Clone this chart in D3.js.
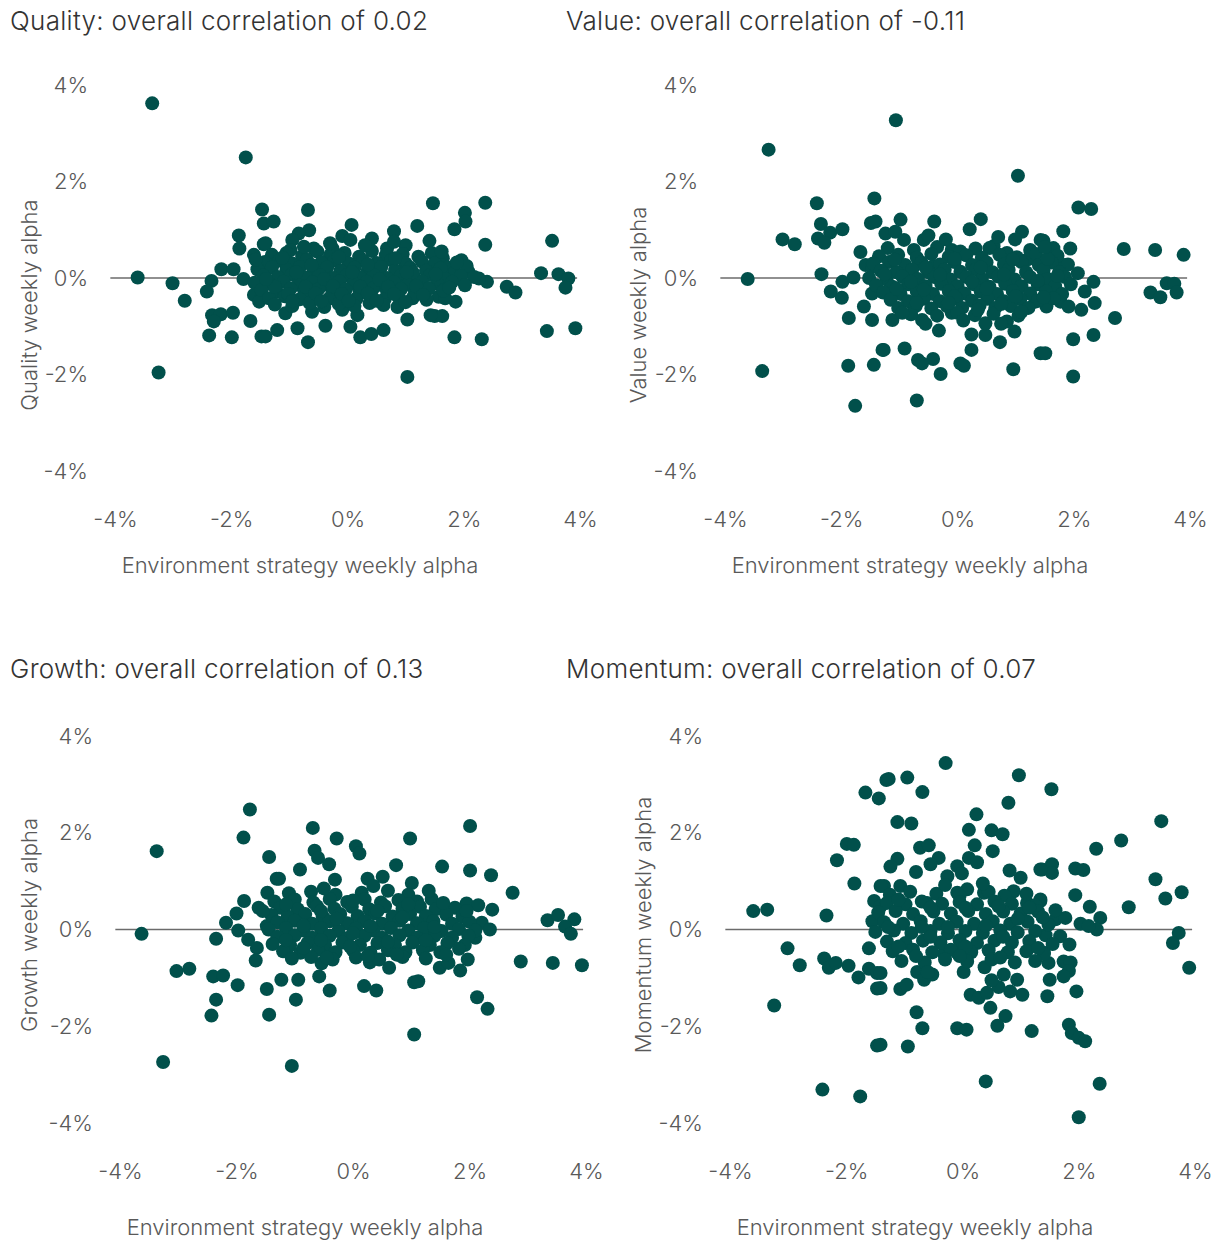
<!DOCTYPE html>
<html>
<head>
<meta charset="utf-8">
<script src="https://cdn.jsdelivr.net/npm/d3@7"></script>
<style>
  body { margin: 0; background: #ffffff; }
  svg text { font-family: Inter, "Noto Sans", sans-serif; }
</style>
</head>
<body>
<svg id="chart" width="1221" height="1241"></svg>
<script>
// Axis ticks shared by every panel (weekly alpha, in %)
const tickValues = [-4, -2, 0, 2, 4];
const tickLabels = ["-4%", "-2%", "0%", "2%", "4%"];

const factorNames = ["Quality", "Value", "Growth", "Momentum"];
const correlations = ["0.02", "-0.11", "0.13", "0.07"];
const xAxisTitle = "Environment strategy weekly alpha";

// [environment strategy weekly alpha %, factor weekly alpha %]
const qualityPoints = [
  [-3.36,3.62],[-1.75,2.50],[-1.47,1.42],[-1.44,1.13],[-1.87,0.88],[-1.86,0.61],[-1.44,0.70],[-1.61,0.48],
  [-3.61,0.01],[-3.01,-0.11],[-2.80,-0.47],[-2.17,0.18],[-1.96,0.18],[-2.34,-0.06],[-2.42,-0.28],[-1.79,-0.02],
  [-2.33,-0.77],[-2.18,-0.75],[-2.30,-0.90],[-1.97,-0.72],[-1.67,-0.89],[-2.38,-1.19],[-1.99,-1.23],[-1.48,-1.21],
  [-3.25,-1.96],[-1.61,-0.35],[-1.52,-0.49],[-1.47,0.13],
  [1.47,1.55],[2.37,1.56],[2.02,1.35],[2.03,1.17],[1.84,1.01],[1.41,0.77],[2.37,0.69],[1.45,0.52],[1.64,0.41],[1.96,0.37],
  [3.52,0.77],[3.33,0.10],[3.63,0.08],[3.80,-0.01],[3.75,-0.20],[2.74,-0.18],[2.89,-0.30],[2.40,-0.08],[2.26,-0.01],[2.08,0.13],
  [3.43,-1.10],[3.92,-1.04],[1.84,-1.23],[2.31,-1.27],[1.50,-0.79],[1.63,-0.79],[1.86,-0.49],[1.57,-0.39],[1.68,-0.42],
  [1.03,-2.05],
  [-0.68,1.41],[-1.27,1.17],[0.07,1.10],[1.20,1.08],[0.80,0.97],[-0.66,0.99],[-0.84,0.92],[-0.95,0.79],[-0.09,0.87],
  [0.42,0.82],[1.00,0.68],[0.68,0.61],[-1.41,0.72],[-0.58,0.61],[-0.26,0.61],[0.05,0.79],[-0.98,0.58],
  [-0.09,-0.66],[0.17,-0.77],[0.05,-1.01],[-0.38,-0.99],[-0.61,-0.70],[-0.86,-1.04],[-1.21,-1.08],[-1.41,-1.21],
  [-0.68,-1.33],[0.22,-1.23],[0.41,-1.16],[0.62,-1.08],[1.03,-0.86],[-1.07,-0.73],[1.43,-0.77],
  [-1.30,0.48],[-1.05,0.52],[-0.78,0.45],[-0.52,0.55],[-0.30,0.47],[-0.05,0.52],[0.20,0.44],[0.42,0.56],[0.66,0.47],[0.95,0.50],[1.22,0.44],[1.50,0.30],
  [-1.42,0.33],[-1.18,0.36],[-0.95,0.30],[-0.70,0.38],[-0.45,0.32],[-0.22,0.37],[0.02,0.30],[0.27,0.36],[0.50,0.31],[0.75,0.37],[1.00,0.30],[1.28,0.34],[1.72,0.22],
  [-1.55,0.18],[-1.30,0.22],[-1.05,0.17],[-0.82,0.23],[-0.58,0.16],[-0.35,0.22],[-0.12,0.15],[0.12,0.21],[0.35,0.17],[0.58,0.23],[0.82,0.16],[1.08,0.21],[1.35,0.15],[1.60,0.20],[1.85,0.12],[2.05,0.25],
  [-1.45,0.05],[-1.20,0.02],[-0.96,0.07],[-0.72,0.01],[-0.48,0.06],[-0.25,0.00],[-0.02,0.05],[0.22,0.01],[0.45,0.06],[0.68,0.00],[0.92,0.05],[1.15,0.02],[1.42,0.06],[1.68,-0.02],[1.95,0.04],[2.18,0.02],
  [-1.60,-0.10],[-1.35,-0.12],[-1.10,-0.08],[-0.85,-0.14],[-0.60,-0.09],[-0.38,-0.13],[-0.14,-0.07],[0.10,-0.12],[0.33,-0.08],[0.56,-0.14],[0.80,-0.09],[1.04,-0.13],[1.28,-0.07],[1.55,-0.12],[1.80,-0.08],[2.02,-0.15],
  [-1.48,-0.25],[-1.22,-0.28],[-0.98,-0.22],[-0.74,-0.27],[-0.50,-0.23],[-0.26,-0.29],[-0.03,-0.24],[0.21,-0.28],[0.44,-0.22],[0.68,-0.27],[0.92,-0.23],[1.16,-0.29],[1.40,-0.22],[1.65,-0.26],
  [-1.35,-0.42],[-1.08,-0.38],[-0.82,-0.44],[-0.56,-0.39],[-0.32,-0.43],[-0.08,-0.37],[0.16,-0.42],[0.40,-0.38],[0.64,-0.44],[0.88,-0.40],[1.12,-0.42],[1.36,-0.45],
  [-1.25,-0.55],[-0.95,-0.58],[-0.65,-0.52],[-0.40,-0.60],[-0.15,-0.54],[0.12,-0.58],[0.38,-0.52],[0.62,-0.56],[0.86,-0.60],
  [-1.12,0.42],[-0.62,0.27],[-0.15,0.43],[0.35,0.28],[0.82,0.41],[1.12,0.12],[-0.88,0.12],[-0.40,-0.02],[0.08,0.12],[0.55,-0.03],
  [1.02,0.12],[1.52,0.08],[-1.25,-0.18],[-0.72,-0.18],[-0.25,-0.17],[0.22,-0.18],[0.70,-0.18],[1.18,-0.17],[1.75,-0.20],[-1.02,-0.33],
  [-0.55,-0.32],[-0.10,-0.33],[0.35,-0.32],[0.80,-0.33],[1.30,-0.35],[-0.95,-0.48],[-0.45,-0.48],[0.02,-0.47],[0.50,-0.47],[1.00,-0.50],
  [-1.40,-0.02],[1.88,0.32],[-0.30,0.72],[0.30,0.68],[0.80,0.75],[-0.75,0.65],[1.62,0.55],[-1.58,0.38]
];

const valuePoints = [
  [-3.25,2.66],[-2.42,1.55],[-1.43,1.65],[-2.35,1.12],[-2.19,0.94],[-1.98,1.01],[-2.40,0.82],[-2.29,0.73],[-3.01,0.80],
  [-2.80,0.70],[-1.49,1.14],[-1.67,0.54],[-3.61,-0.02],[-2.34,0.08],[-1.98,-0.08],[-1.79,0.01],[-2.18,-0.28],[-1.99,-0.41],
  [-1.61,-0.59],[-1.87,-0.83],[-1.47,-0.87],[-3.36,-1.93],[-1.88,-1.82],[-1.44,-1.80],[-1.76,-2.65],[-1.58,0.27],[-1.47,0.23],
  [-1.47,-0.32],[-1.29,-1.49],[-1.06,3.27],
  [1.04,2.12],[-0.98,1.21],[-0.40,1.17],[0.40,1.22],[0.21,1.01],[1.11,0.96],[0.99,0.80],[-1.24,0.92],[-1.07,0.96],
  [-0.92,0.79],[-0.58,0.79],[1.43,0.79],[-1.41,1.17],[-0.10,0.58],[0.31,0.61],[0.62,0.66],[1.21,0.39],[-0.41,0.25],
  [-0.32,-1.09],[0.24,-1.17],[0.24,-1.49],[0.48,-1.18],[0.73,-1.33],[0.98,-1.11],[-1.27,-1.49],[-0.91,-1.46],
  [-0.68,-1.70],[-0.42,-1.68],[-0.61,-1.77],[-0.29,-1.99],[0.05,-1.77],[0.11,-1.82],[0.96,-1.89],[-0.70,-2.54],
  [1.43,-1.56],[-1.12,-0.87],[-0.61,-0.87],[-0.10,-0.72],[0.48,-0.94],[0.85,-0.90],
  [2.08,1.46],[2.30,1.43],[1.82,0.97],[1.48,0.77],[1.94,0.61],[2.86,0.60],[3.40,0.58],[3.89,0.48],[1.60,0.46],
  [1.83,0.27],[2.07,0.10],[2.34,-0.08],[2.19,-0.28],[3.60,-0.11],[3.73,-0.12],[3.32,-0.30],[3.49,-0.40],[3.77,-0.30],
  [2.36,-0.52],[2.71,-0.83],[1.77,-0.49],[1.91,-0.59],[2.13,-0.66],[1.53,-0.59],[1.34,-0.49],[1.99,-1.27],[2.34,-1.18],
  [1.51,-1.56],[1.99,-2.04],
  [-1.20,0.62],[-0.75,0.58],[-0.35,0.64],[0.05,0.55],[0.55,0.62],[0.85,0.52],[1.25,0.58],[1.65,0.62],
  [-1.35,0.45],[-1.02,0.48],[-0.70,0.42],[-0.45,0.50],[-0.15,0.44],[0.15,0.47],[0.42,0.42],[0.72,0.48],[1.02,0.43],[1.35,0.50],[1.72,0.46],
  [-1.45,0.30],[-1.18,0.33],[-0.90,0.27],[-0.62,0.32],[-0.30,0.28],[-0.05,0.33],[0.25,0.27],[0.50,0.32],[0.80,0.28],[1.10,0.33],[1.40,0.27],[1.62,0.32],[1.90,0.28],
  [-1.32,0.15],[-1.05,0.12],[-0.78,0.17],[-0.50,0.12],[-0.22,0.17],[0.05,0.13],[0.32,0.18],[0.60,0.12],[0.88,0.17],[1.18,0.12],[1.48,0.16],[1.75,0.12],
  [-1.52,0.00],[-1.22,-0.03],[-0.95,0.03],[-0.68,-0.02],[-0.40,0.02],[-0.12,-0.03],[0.15,0.02],[0.42,-0.02],[0.70,0.03],[0.98,-0.03],[1.25,0.02],[1.55,-0.02],[1.85,0.02],
  [-1.40,-0.15],[-1.12,-0.18],[-0.85,-0.13],[-0.55,-0.17],[-0.28,-0.12],[0.00,-0.17],[0.28,-0.13],[0.55,-0.18],[0.82,-0.12],[1.10,-0.17],[1.38,-0.13],[1.68,-0.17],[1.95,-0.13],
  [-1.28,-0.30],[-0.98,-0.33],[-0.70,-0.28],[-0.42,-0.33],[-0.15,-0.27],[0.12,-0.32],[0.40,-0.28],[0.68,-0.33],[0.95,-0.27],[1.25,-0.32],[1.52,-0.28],[1.80,-0.33],
  [-1.15,-0.45],[-0.85,-0.48],[-0.58,-0.43],[-0.30,-0.48],[-0.02,-0.43],[0.25,-0.47],[0.52,-0.43],[0.80,-0.48],[1.08,-0.44],[1.38,-0.47],[1.65,-0.42],
  [-1.02,-0.62],[-0.72,-0.58],[-0.45,-0.63],[-0.18,-0.58],[0.08,-0.62],[0.38,-0.57],[0.65,-0.62],[0.92,-0.58],[1.22,-0.62],
  [-0.80,-0.75],[-0.35,-0.78],[0.00,-0.72],[0.30,-0.77],[0.62,-0.74],[1.05,-0.78],
  [-1.08,0.38],[-0.55,0.22],[-0.05,0.40],[0.40,0.22],[0.95,0.38],[1.55,0.40],[-1.25,0.08],[-0.80,-0.08],[-0.30,0.07],[0.25,-0.08],
  [0.80,0.07],[1.38,-0.06],[1.72,0.04],[-1.05,-0.22],[-0.58,-0.24],[-0.05,-0.38],[0.50,-0.22],[1.00,-0.38],[1.48,-0.40],[-0.70,-0.52],
  [-0.15,-0.52],[0.35,-0.66],[0.75,-0.54],[1.10,-0.70],[-0.95,-0.72],[-0.50,0.88],[0.70,0.85],[-0.20,0.80],[1.50,0.64],[0.10,-0.88],
  [-0.55,-0.95],[0.75,-0.95]
];

const growthPoints = [
  [-1.77,2.48],[-1.88,1.90],[-3.37,1.62],[-1.44,1.50],[-1.31,1.05],[-1.47,0.76],[-1.87,0.59],[-1.62,0.45],[-2.00,0.33],
  [-2.18,0.14],[-1.97,-0.02],[-1.80,-0.21],[-3.63,-0.09],[-2.35,-0.19],[-1.48,0.07],[-1.65,-0.38],[-1.67,-0.64],
  [-3.03,-0.86],[-2.81,-0.81],[-2.40,-0.97],[-2.23,-0.95],[-1.98,-1.15],[-2.35,-1.45],[-2.43,-1.78],[-1.48,-1.23],
  [-1.44,-1.76],[-3.26,-2.74],
  [-0.69,2.10],[-0.28,1.88],[0.05,1.72],[0.11,1.57],[0.98,1.88],[-0.66,1.63],[-0.60,1.48],[-0.41,1.35],[0.74,1.33],
  [-0.91,1.24],[-1.27,1.05],[-0.31,1.03],[0.25,1.05],[0.51,1.09],[1.01,0.96],
  [-0.40,-1.26],[0.19,-1.17],[0.40,-1.26],[1.05,-1.09],[-0.98,-1.45],[1.05,-2.17],[-1.05,-2.82],[-0.58,-0.97],
  [-1.23,-1.04],[-0.94,-1.04],[0.62,-0.79],[1.12,-1.07],[-0.54,-0.70],[0.29,-0.68],
  [2.01,2.14],[1.53,1.30],[2.01,1.22],[2.37,1.12],[2.74,0.76],[1.55,0.50],[1.95,0.54],[2.15,0.50],[2.39,0.41],
  [3.34,0.19],[3.52,0.30],[3.80,0.21],[3.64,0.06],[3.74,-0.09],[2.21,0.14],[2.35,0.00],[2.10,-0.17],[2.88,-0.66],
  [3.43,-0.69],[3.93,-0.74],[1.97,-0.62],[1.49,-0.79],[1.64,-0.69],[1.84,-0.85],[2.13,-1.40],[2.31,-1.64],
  [-1.10,0.75],[-0.72,0.78],[-0.30,0.72],[0.15,0.76],[0.60,0.80],[0.95,0.72],
  [-1.35,0.58],[-1.00,0.62],[-0.68,0.56],[-0.40,0.63],[-0.10,0.57],[0.20,0.62],[0.48,0.56],[0.78,0.61],[1.10,0.58],[1.35,0.63],
  [-1.25,0.45],[-0.95,0.42],[-0.62,0.48],[-0.32,0.43],[-0.02,0.47],[0.28,0.42],[0.55,0.48],[0.85,0.43],[1.15,0.47],[1.42,0.42],[1.75,0.45],
  [-1.40,0.30],[-1.12,0.27],[-0.82,0.32],[-0.52,0.27],[-0.22,0.32],[0.08,0.28],[0.38,0.33],[0.68,0.27],[0.98,0.32],[1.25,0.28],[1.60,0.31],[1.88,0.27],
  [-1.30,0.15],[-1.00,0.18],[-0.70,0.12],[-0.40,0.17],[-0.10,0.13],[0.20,0.17],[0.50,0.12],[0.80,0.18],[1.10,0.13],[1.38,0.17],[1.70,0.12],[2.00,0.16],
  [-1.45,0.00],[-1.15,0.03],[-0.85,-0.02],[-0.55,0.02],[-0.25,-0.03],[0.05,0.02],[0.35,-0.02],[0.65,0.03],[0.95,-0.02],[1.22,0.02],[1.52,-0.03],[1.82,0.01],[2.10,-0.02],
  [-1.30,-0.15],[-1.00,-0.12],[-0.70,-0.17],[-0.40,-0.13],[-0.10,-0.18],[0.20,-0.13],[0.50,-0.17],[0.80,-0.12],[1.10,-0.17],[1.40,-0.13],[1.70,-0.17],[1.98,-0.13],
  [-1.38,-0.30],[-1.08,-0.33],[-0.78,-0.28],[-0.48,-0.33],[-0.18,-0.27],[0.12,-0.32],[0.42,-0.28],[0.72,-0.33],[1.02,-0.27],[1.32,-0.32],[1.62,-0.28],[1.92,-0.32],
  [-1.20,-0.45],[-0.90,-0.48],[-0.60,-0.42],[-0.30,-0.47],[0.00,-0.43],[0.30,-0.48],[0.60,-0.43],[0.90,-0.47],[1.20,-0.43],[1.50,-0.47],
  [-1.05,-0.60],[-0.72,-0.57],[-0.35,-0.62],[0.05,-0.58],[0.45,-0.62],[0.85,-0.57],[1.25,-0.60],
  [-1.15,0.52],[-0.55,0.38],[0.00,0.60],[0.42,0.38],[0.95,0.52],[1.55,0.55],[-0.85,0.08],[-0.28,0.22],[0.30,0.07],[0.85,0.25],
  [1.40,0.05],[1.95,0.38],[-1.15,-0.22],[-0.55,-0.22],[0.00,-0.08],[0.60,-0.25],[1.25,-0.22],[1.82,-0.40],[-0.85,-0.38],[-0.05,-0.35],
  [0.75,-0.52],[1.60,-0.52],[-0.45,-0.58],[0.25,-0.55],[-0.50,0.85],[0.35,0.90],[1.30,0.80],[-1.55,0.38]
];

const momentumPoints = [
  [-1.67,2.83],[-1.44,2.71],[-1.31,3.09],[-1.99,1.77],[-1.87,1.75],[-2.16,1.43],[-1.86,0.95],[-3.60,0.38],[-3.36,0.41],
  [-2.34,0.29],[-3.01,-0.39],[-2.80,-0.74],[-2.38,-0.60],[-2.30,-0.79],[-2.18,-0.69],[-1.96,-0.75],[-1.79,-0.99],
  [-1.61,-0.39],[-1.61,-0.81],[-1.47,-0.90],[-1.47,-1.22],[-3.24,-1.57],[-1.47,-2.40],[-2.41,-3.31],[-1.76,-3.45],
  [-1.52,0.59],[-1.55,0.17],[-1.41,0.48],[-1.35,0.90],
  [-0.29,3.44],[-1.27,3.11],[-0.95,3.14],[-0.69,2.84],[0.97,3.19],[0.79,2.62],[0.24,2.38],[-1.12,2.22],[-0.88,2.19],
  [0.11,2.06],[0.50,2.05],[0.69,1.97],[0.21,1.74],[0.52,1.62],[-0.73,1.69],[-0.58,1.74],[-1.12,1.46],[-1.24,1.30],
  [-0.41,1.48],[-0.55,1.35],[-0.09,1.31],[0.11,1.48],[0.25,1.39],[-0.80,1.19],[-0.26,1.10],[-0.01,1.16],[0.81,1.22],
  [1.00,1.07],[1.37,1.24],[-1.41,0.90],[-1.07,0.90],[0.37,0.76],[0.88,0.79],[1.11,0.55],[1.34,0.62],[-0.61,0.55],
  [0.08,0.83],[-0.09,0.76],
  [0.38,-0.78],[0.02,-0.88],[-0.32,-0.50],[-0.09,-0.48],[-0.78,-0.88],[-0.66,-1.04],[-0.52,-0.93],[-1.07,-1.23],
  [-0.96,-1.14],[0.14,-1.35],[0.28,-1.41],[0.42,-1.31],[0.62,-1.19],[0.71,-0.93],[0.94,-1.04],[1.03,-1.35],[0.82,-1.28],
  [0.48,-1.62],[0.74,-1.79],[0.60,-1.99],[-0.79,-1.71],[-0.69,-2.04],[-0.09,-2.04],[0.07,-2.07],[1.19,-2.10],
  [-1.41,-2.38],[-0.94,-2.42],[0.40,-3.14],[-1.41,-0.90],[-1.41,-1.21],
  [1.53,2.90],[3.42,2.24],[2.73,1.84],[2.30,1.67],[1.54,1.35],[1.54,1.17],[1.34,1.24],[1.94,1.26],[2.08,1.23],
  [3.32,1.04],[3.77,0.77],[3.49,0.64],[2.86,0.46],[1.94,0.71],[2.19,0.47],[1.34,0.59],[2.37,0.24],[2.31,0.00],
  [2.03,0.12],[2.17,0.07],[1.60,0.21],[1.77,0.24],[3.72,-0.07],[3.62,-0.28],[3.90,-0.79],[1.43,-0.12],[1.68,-0.14],
  [1.84,-0.31],[1.40,-0.48],[1.48,-0.69],[1.74,-0.66],[1.86,-0.68],[1.83,-0.86],[1.74,-0.97],[1.50,-1.04],[1.46,-1.38],
  [1.96,-1.28],[1.83,-1.97],[1.88,-2.14],[2.00,-2.24],[2.11,-2.31],[2.36,-3.19],[2.00,-3.88],
  [-1.25,0.72],[-0.90,0.78],[-0.45,0.74],[-0.05,0.70],[0.45,0.78],[0.72,0.70],[1.10,0.74],
  [-1.30,0.55],[-0.98,0.52],[-0.70,0.58],[-0.35,0.53],[-0.05,0.57],[0.25,0.52],[0.55,0.58],[0.85,0.53],[1.25,0.50],
  [-1.45,0.35],[-1.15,0.38],[-0.85,0.32],[-0.50,0.37],[-0.20,0.33],[0.10,0.38],[0.40,0.32],[0.70,0.37],[1.00,0.33],[1.30,0.37],[1.60,0.40],
  [-1.35,0.15],[-1.02,0.12],[-0.72,0.17],[-0.40,0.12],[-0.10,0.16],[0.20,0.12],[0.52,0.17],[0.82,0.12],[1.12,0.16],[1.48,0.10],
  [-1.50,-0.05],[-1.18,-0.02],[-0.88,-0.07],[-0.55,-0.03],[-0.25,-0.08],[0.05,-0.03],[0.35,-0.07],[0.65,-0.02],[0.95,-0.06],[1.25,-0.03],
  [-1.30,-0.25],[-0.98,-0.28],[-0.68,-0.23],[-0.38,-0.27],[-0.05,-0.22],[0.25,-0.28],[0.55,-0.23],[0.85,-0.27],[1.15,-0.24],[1.55,-0.30],
  [-1.20,-0.45],[-0.85,-0.42],[-0.52,-0.47],[-0.20,-0.42],[0.15,-0.47],[0.45,-0.43],[0.78,-0.47],[1.10,-0.45],[1.40,-0.50],
  [-1.05,-0.65],[-0.65,-0.68],[-0.30,-0.62],[0.08,-0.66],[0.50,-0.62],[0.90,-0.68],[1.25,-0.65],
  [-1.10,0.62],[-0.55,0.45],[0.05,0.45],[0.62,0.48],[1.15,0.45],[-1.28,0.05],[-0.70,0.05],[-0.25,0.05],[0.40,0.08],[0.95,0.22],
  [1.38,0.25],[-1.10,-0.35],[-0.55,-0.15],[0.05,-0.35],[0.70,-0.15],[1.30,-0.38],[-0.80,-0.55],[-0.05,-0.55],[0.65,-0.58],[-0.30,0.92],
  [0.35,0.95],[-0.60,-0.88],[0.50,-1.05]
];

const panelPoints = [qualityPoints, valuePoints, growthPoints, momentumPoints];

// Panel geometry: pixel extent of the -4%..4% range on each axis, plus label anchors
const panelLayout = [
  { left: 115, right: 580,  top: 85,  bottom: 471,  titleX: 10,  titleY: 30,  yTitleX: 37,  yTitleY: 305, xTitleX: 300, xTitleY: 573 },
  { left: 725, right: 1190, top: 85,  bottom: 471,  titleX: 566, titleY: 30,  yTitleX: 646, yTitleY: 305, xTitleX: 910, xTitleY: 573 },
  { left: 120, right: 586,  top: 736, bottom: 1123, titleX: 10,  titleY: 678, yTitleX: 37,  yTitleY: 925, xTitleX: 305, xTitleY: 1235 },
  { left: 730, right: 1195, top: 736, bottom: 1123, titleX: 566, titleY: 678, yTitleX: 651, yTitleY: 925, xTitleX: 915, xTitleY: 1235 }
];

const fontStack = "Inter, 'Noto Sans', sans-serif";
const dotColor = "#01504b";
const titleColor = "#333333";
const labelColor = "#595959";

const svg = d3.select("#chart");

factorNames.forEach((name, i) => {
  const L = panelLayout[i];
  const x = d3.scaleLinear().domain([-4, 4]).range([L.left, L.right]);
  const y = d3.scaleLinear().domain([-4, 4]).range([L.bottom, L.top]);
  const g = svg.append("g");

  // Panel title
  g.append("text")
    .attr("x", L.titleX).attr("y", L.titleY)
    .attr("fill", titleColor).style("font-size", "26px").style("font-weight", 350)
    .style("letter-spacing", "0.3px")
    .text(`${name}: overall correlation of ${correlations[i]}`);

  // Y axis tick labels
  const yAxis = d3.axisLeft(y).tickValues(tickValues)
    .tickFormat((d, k) => tickLabels[k]).tickSize(0).tickPadding(27);
  const yg = g.append("g").attr("transform", `translate(${L.left},0)`).call(yAxis);
  yg.select(".domain").remove();
  yg.selectAll("text").attr("fill", labelColor)
    .style("font-size", "22px").style("font-weight", 300).style("font-family", fontStack);

  // X axis tick labels
  const xAxis = d3.axisBottom(x).tickValues(tickValues)
    .tickFormat((d, k) => tickLabels[k]).tickSize(0).tickPadding(40);
  const xg = g.append("g").attr("transform", `translate(0,${L.bottom})`).call(xAxis);
  xg.select(".domain").remove();
  xg.selectAll("text").attr("fill", labelColor)
    .style("font-size", "22px").style("font-weight", 300).style("font-family", fontStack);

  // Zero reference line
  g.append("line")
    .attr("x1", x(-4.08)).attr("x2", x(3.95))
    .attr("y1", y(0)).attr("y2", y(0))
    .attr("stroke", "#6b6b6b").attr("stroke-width", 1.5);

  // Weekly alpha observations
  g.append("g").selectAll("circle")
    .data(panelPoints[i])
    .join("circle")
    .attr("cx", d => x(d[0]))
    .attr("cy", d => y(d[1]))
    .attr("r", 7)
    .attr("fill", dotColor);

  // Axis titles
  g.append("text")
    .attr("x", L.xTitleX).attr("y", L.xTitleY)
    .attr("text-anchor", "middle")
    .attr("fill", labelColor).style("font-size", "22px").style("font-weight", 300)
    .text(xAxisTitle);

  g.append("text")
    .attr("transform", `translate(${L.yTitleX},${L.yTitleY}) rotate(-90)`)
    .attr("text-anchor", "middle")
    .attr("fill", labelColor).style("font-size", "22px").style("font-weight", 300)
    .text(`${name} weekly alpha`);
});
</script>
</body>
</html>
